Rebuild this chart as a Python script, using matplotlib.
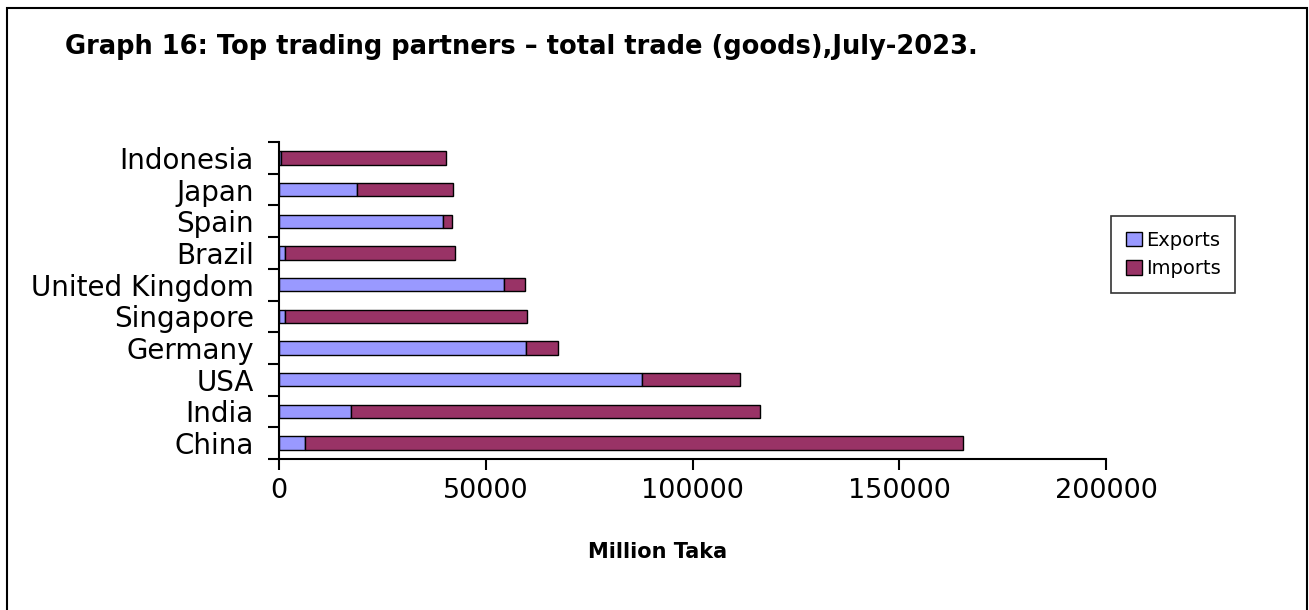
import matplotlib.pyplot as plt
import matplotlib.patches as patches
import numpy as np

plt.rcParams['font.family'] = ['DejaVu Sans']

# Données (millions de taka), de bas en haut
countries = ["China", "India", "USA", "Germany", "Singapore",
             "United Kingdom", "Brazil", "Spain", "Japan", "Indonesia"]
exports = [6400, 17400, 87800, 59800, 1450, 54300, 1400, 39700, 18850, 400]
imports = [159000, 99000, 23700, 7600, 58550, 5150, 41150, 2250, 23150, 40000]

exp_color = "#9999ff"
imp_color = "#993366"

fig = plt.figure(figsize=(13.09, 6.10), dpi=100)
ax = fig.add_axes([279 / 1309, 151 / 610, 827 / 1309, 317 / 610])

y = np.arange(len(countries))
ax.barh(y, exports, height=0.42, color=exp_color, edgecolor="black", linewidth=1, label="Exports")
ax.barh(y, imports, left=exports, height=0.42, color=imp_color, edgecolor="black", linewidth=1, label="Imports")

ax.set_xlim(0, 200000)
ax.set_ylim(-0.5, len(countries) - 0.5)
ax.set_xticks([0, 50000, 100000, 150000, 200000])
ax.set_yticks(y)
ax.set_yticklabels(countries)
ax.set_yticks(np.arange(-0.5, len(countries), 1), minor=True)
ax.tick_params(axis="y", which="major", length=0, labelsize=20, pad=18)
ax.tick_params(axis="y", which="minor", length=8, width=1.5)
ax.tick_params(axis="x", length=8, width=1.5, labelsize=19.5, pad=6)
for s in ["top", "right"]:
    ax.spines[s].set_visible(False)
ax.spines["left"].set_linewidth(1.5)
ax.spines["bottom"].set_linewidth(1.5)

fig.text(658 / 1309, 1 - 552 / 610, "Million Taka", fontsize=15, fontweight="bold",
         ha="center", va="center")

fig.text(65 / 1309, 1 - 47 / 610, "Graph 16: Top trading partners \u2013 total trade (goods),July-2023.",
         fontsize=18.5, fontweight="bold", va="center", ha="left")

leg = ax.legend(loc="upper left", bbox_to_anchor=(1111 / 1309, 1 - 216 / 610),
                bbox_transform=fig.transFigure, fontsize=14, frameon=True, fancybox=False,
                edgecolor="black", handlelength=0.85, handleheight=0.75, handletextpad=0.2,
                borderpad=0.75, borderaxespad=0, labelspacing=0.5)
leg.get_frame().set_linewidth(1.2)

# Cadre autour de la figure
fig.patches.append(patches.Rectangle((7 / 1309, -0.01), 1300 / 1309, 1 - 8 / 610 + 0.01,
                                     transform=fig.transFigure, fill=False,
                                     edgecolor="black", linewidth=1.5))

fig.savefig("out.png", dpi=100)
